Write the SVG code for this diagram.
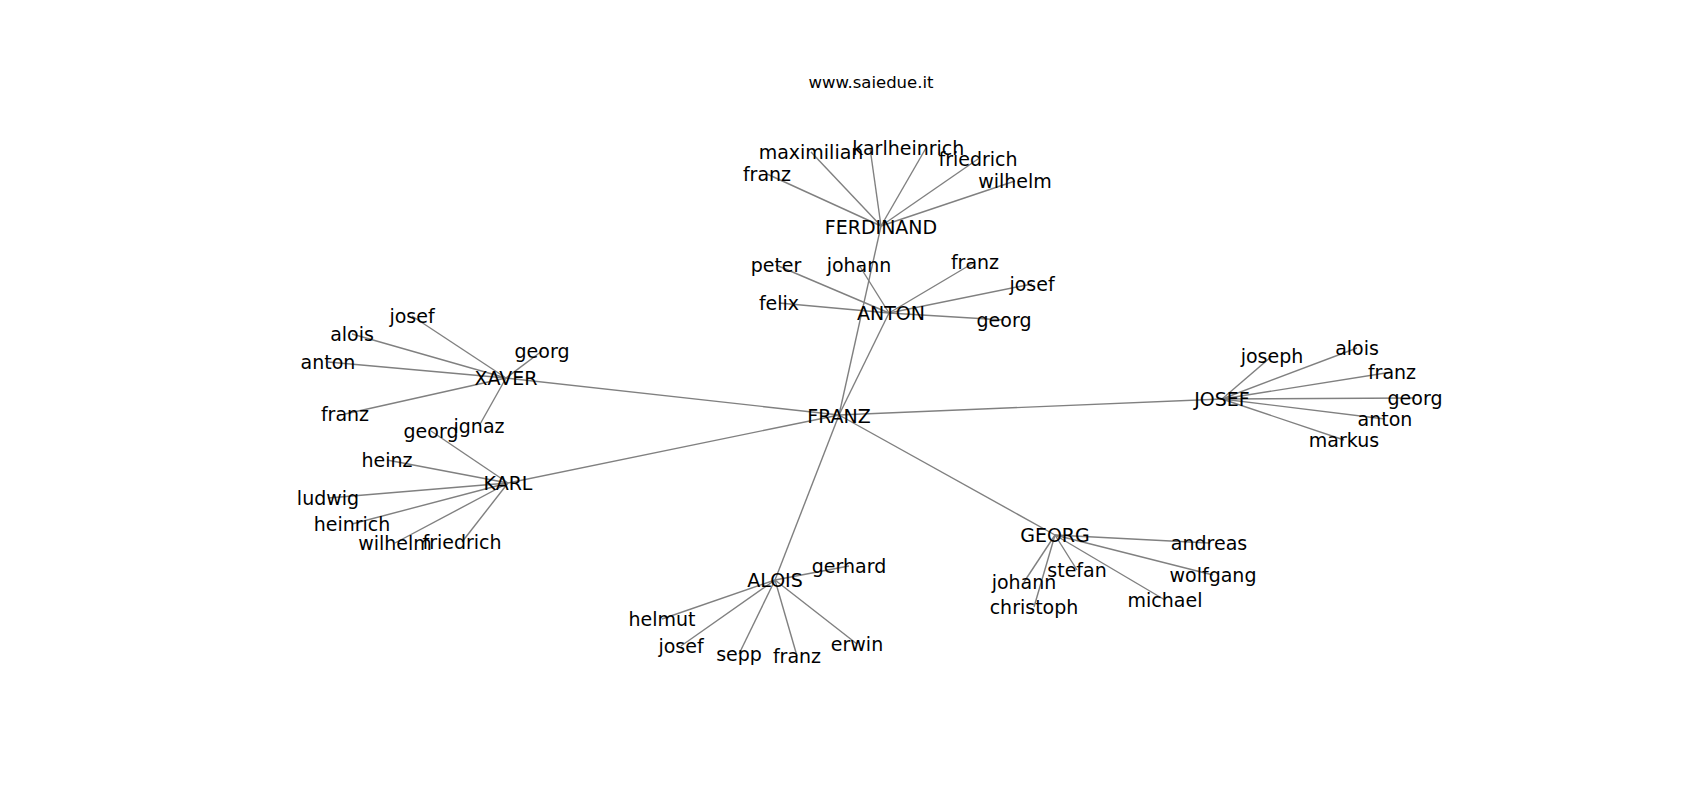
<svg xmlns="http://www.w3.org/2000/svg" width="1700" height="800" viewBox="0 0 1700 800">
<style>
.e{stroke:#808080;stroke-width:1.4;fill:none}
text{font-family:"DejaVu Sans","Liberation Sans",sans-serif;fill:#000;text-anchor:middle}
.n text{font-size:19px}
.t{font-size:16.5px}
</style>
<rect width="1700" height="800" fill="#fff"/>
<text class="t" x="871" y="88">www.saiedue.it</text>
<g id="connectors">
<!-- hubs -->
<line class="e" x1="839" y1="415" x2="889" y2="313"/>
<line class="e" x1="839" y1="415" x2="881" y2="226"/>
<line class="e" x1="839" y1="415" x2="506" y2="378"/>
<line class="e" x1="839" y1="415" x2="1222" y2="399"/>
<line class="e" x1="839" y1="415" x2="508" y2="483"/>
<line class="e" x1="839" y1="415" x2="775" y2="580"/>
<line class="e" x1="839" y1="415" x2="1055" y2="535"/>
<!-- FERDINAND -->
<line class="e" x1="881" y1="226" x2="811" y2="152"/>
<line class="e" x1="881" y1="226" x2="870" y2="148"/>
<line class="e" x1="881" y1="226" x2="926" y2="148"/>
<line class="e" x1="881" y1="226" x2="978" y2="159"/>
<line class="e" x1="881" y1="226" x2="767" y2="174"/>
<line class="e" x1="881" y1="226" x2="1015" y2="181"/>
<!-- ANTON -->
<line class="e" x1="889" y1="313" x2="776" y2="265"/>
<line class="e" x1="889" y1="313" x2="859" y2="265"/>
<line class="e" x1="889" y1="313" x2="975" y2="262"/>
<line class="e" x1="889" y1="313" x2="1032" y2="284"/>
<line class="e" x1="889" y1="313" x2="779" y2="303"/>
<line class="e" x1="889" y1="313" x2="1004" y2="320"/>
<!-- XAVER -->
<line class="e" x1="506" y1="378" x2="412" y2="316"/>
<line class="e" x1="506" y1="378" x2="352" y2="334"/>
<line class="e" x1="506" y1="378" x2="328" y2="362"/>
<line class="e" x1="506" y1="378" x2="542" y2="351"/>
<line class="e" x1="506" y1="378" x2="345" y2="414"/>
<line class="e" x1="506" y1="378" x2="479" y2="426"/>
<!-- KARL -->
<line class="e" x1="508" y1="483" x2="431" y2="431"/>
<line class="e" x1="508" y1="483" x2="387" y2="460"/>
<line class="e" x1="508" y1="483" x2="328" y2="498"/>
<line class="e" x1="508" y1="483" x2="352" y2="524"/>
<line class="e" x1="508" y1="483" x2="395" y2="543"/>
<line class="e" x1="508" y1="483" x2="462" y2="542"/>
<!-- JOSEF -->
<line class="e" x1="1222" y1="399" x2="1272" y2="356"/>
<line class="e" x1="1222" y1="399" x2="1357" y2="348"/>
<line class="e" x1="1222" y1="399" x2="1392" y2="372"/>
<line class="e" x1="1222" y1="399" x2="1415" y2="398"/>
<line class="e" x1="1222" y1="399" x2="1385" y2="419"/>
<line class="e" x1="1222" y1="399" x2="1344" y2="440"/>
<!-- ALOIS -->
<line class="e" x1="775" y1="580" x2="849" y2="566"/>
<line class="e" x1="775" y1="580" x2="662" y2="619"/>
<line class="e" x1="775" y1="580" x2="681" y2="646"/>
<line class="e" x1="775" y1="580" x2="739" y2="654"/>
<line class="e" x1="775" y1="580" x2="797" y2="656"/>
<line class="e" x1="775" y1="580" x2="857" y2="644"/>
<!-- GEORG -->
<line class="e" x1="1055" y1="535" x2="1209" y2="543"/>
<line class="e" x1="1055" y1="535" x2="1213" y2="575"/>
<line class="e" x1="1055" y1="535" x2="1165" y2="600"/>
<line class="e" x1="1055" y1="535" x2="1077" y2="570"/>
<line class="e" x1="1055" y1="535" x2="1024" y2="582"/>
<line class="e" x1="1055" y1="535" x2="1034" y2="607"/>
</g>
<g class="n">
<g id="FRANZ"><text x="839" y="423">FRANZ</text></g>
<g id="FERDINAND"><text x="881" y="234">FERDINAND</text></g>
<g id="f_maximilian"><text x="811" y="159">maximilian</text></g>
<g id="f_karl"><text x="870" y="155">karl</text></g>
<g id="f_heinrich"><text x="926" y="155">heinrich</text></g>
<g id="f_friedrich"><text x="978" y="166">friedrich</text></g>
<g id="f_franz"><text x="767" y="181">franz</text></g>
<g id="f_wilhelm"><text x="1015" y="188">wilhelm</text></g>
<g id="ANTON"><text x="891" y="320">ANTON</text></g>
<g id="a_peter"><text x="776" y="272">peter</text></g>
<g id="a_johann"><text x="859" y="272">johann</text></g>
<g id="a_franz"><text x="975" y="269">franz</text></g>
<g id="a_josef"><text x="1032" y="291">josef</text></g>
<g id="a_felix"><text x="779" y="310">felix</text></g>
<g id="a_georg"><text x="1004" y="327">georg</text></g>
<g id="XAVER"><text x="506" y="385">XAVER</text></g>
<g id="x_josef"><text x="412" y="323">josef</text></g>
<g id="x_alois"><text x="352" y="341">alois</text></g>
<g id="x_anton"><text x="328" y="369">anton</text></g>
<g id="x_georg"><text x="542" y="358">georg</text></g>
<g id="x_franz"><text x="345" y="421">franz</text></g>
<g id="x_ignaz"><text x="479" y="433">ignaz</text></g>
<g id="KARL"><text x="508" y="490">KARL</text></g>
<g id="k_georg"><text x="431" y="438">georg</text></g>
<g id="k_heinz"><text x="387" y="467">heinz</text></g>
<g id="k_ludwig"><text x="328" y="505">ludwig</text></g>
<g id="k_heinrich"><text x="352" y="531">heinrich</text></g>
<g id="k_wilhelm"><text x="395" y="550">wilhelm</text></g>
<g id="k_friedrich"><text x="462" y="549">friedrich</text></g>
<g id="JOSEF"><text x="1222" y="406">JOSEF</text></g>
<g id="j_joseph"><text x="1272" y="363">joseph</text></g>
<g id="j_alois"><text x="1357" y="355">alois</text></g>
<g id="j_franz"><text x="1392" y="379">franz</text></g>
<g id="j_georg"><text x="1415" y="405">georg</text></g>
<g id="j_anton"><text x="1385" y="426">anton</text></g>
<g id="j_markus"><text x="1344" y="447">markus</text></g>
<g id="ALOIS"><text x="775" y="587">ALOIS</text></g>
<g id="al_gerhard"><text x="849" y="573">gerhard</text></g>
<g id="al_helmut"><text x="662" y="626">helmut</text></g>
<g id="al_josef"><text x="681" y="653">josef</text></g>
<g id="al_sepp"><text x="739" y="661">sepp</text></g>
<g id="al_franz"><text x="797" y="663">franz</text></g>
<g id="al_erwin"><text x="857" y="651">erwin</text></g>
<g id="GEORG"><text x="1055" y="542">GEORG</text></g>
<g id="g_andreas"><text x="1209" y="550">andreas</text></g>
<g id="g_wolfgang"><text x="1213" y="582">wolfgang</text></g>
<g id="g_michael"><text x="1165" y="607">michael</text></g>
<g id="g_stefan"><text x="1077" y="577">stefan</text></g>
<g id="g_johann"><text x="1024" y="589">johann</text></g>
<g id="g_christoph"><text x="1034" y="614">christoph</text></g>
</g>
</svg>
